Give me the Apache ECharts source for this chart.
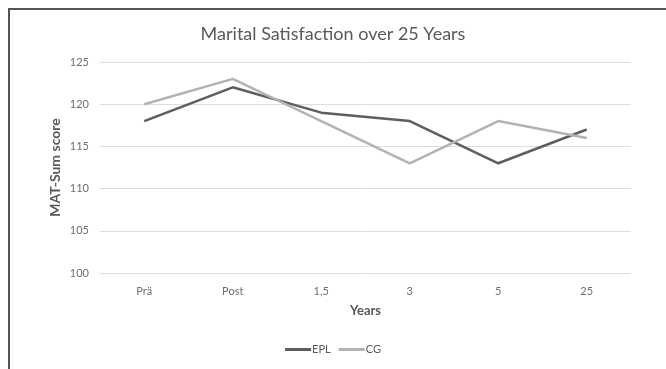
<!DOCTYPE html>
<html>
<head>
<meta charset="utf-8">
<script src="https://cdn.jsdelivr.net/npm/echarts@6/dist/echarts.min.js"></script>
<style>
html,body{margin:0;padding:0;background:#fff;}
#c{width:666px;height:369px;}
</style>
</head>
<body>
<div id="c"></div>
<script>
const categories = ['Prä', 'Post', '1,5', '3', '5', '25'];
const eplValues = [118, 122, 119, 118, 113, 117];
const cgValues = [120, 123, 118, 113, 118, 116];
const seriesNames = ['EPL', 'CG'];
const chartTitle = 'Marital Satisfaction over 25 Years';
const yAxisTitle = 'MAT-Sum score';
const xAxisTitle = 'Years';

const FONT = 'Lato';
const chart = echarts.init(document.getElementById('c'), null, {renderer: 'canvas'});
chart.setOption({
  animation: false,
  backgroundColor: '#fff',
  title: {
    text: chartTitle,
    left: 'center',
    top: 20,
    textStyle: {fontFamily: FONT, fontSize: 18, fontWeight: 'normal', color: '#595959'}
  },
  legend: {
    data: seriesNames,
    bottom: 9,
    left: 'center',
    itemWidth: 26,
    itemHeight: 3,
    itemGap: 8,
    icon: 'rect',
    textStyle: {fontFamily: FONT, fontSize: 11, color: '#595959', padding: [0, 0, 0, -4]}
  },
  grid: {left: 100, right: 35, top: 62, bottom: 96, containLabel: false},
  xAxis: {
    type: 'category',
    data: categories,
    boundaryGap: true,
    name: xAxisTitle,
    nameLocation: 'middle',
    nameGap: 31,
    nameTextStyle: {fontFamily: FONT, fontSize: 13, fontWeight: 'bold', color: '#595959'},
    axisLine: {show: false},
    axisTick: {show: false},
    axisLabel: {fontFamily: FONT, fontSize: 11, color: '#6e6e6e', margin: 13}
  },
  yAxis: {
    type: 'value',
    min: 100,
    max: 125,
    interval: 5,
    name: yAxisTitle,
    nameLocation: 'middle',
    nameGap: 38,
    nameMoveOverlap: false,
    nameRotate: 90,
    nameTextStyle: {fontFamily: FONT, fontSize: 14, fontWeight: 'bold', color: '#595959'},
    axisLine: {show: false},
    axisTick: {show: false},
    axisLabel: {fontFamily: FONT, fontSize: 11, color: '#6e6e6e', margin: 11},
    splitLine: {lineStyle: {color: '#dedede', width: 1}}
  },
  series: [
    {name: seriesNames[0], type: 'line', data: eplValues, symbol: 'none',
     lineStyle: {color: '#5e5e5e', width: 2.5}, itemStyle: {color: '#5e5e5e'}},
    {name: seriesNames[1], type: 'line', data: cgValues, symbol: 'none',
     lineStyle: {color: '#b3b3b3', width: 2.5}, itemStyle: {color: '#b3b3b3'}}
  ],
  graphic: [
    {type: 'line', shape: {x1: 8, y1: 9, x2: 666, y2: 9}, style: {stroke: '#555', lineWidth: 2}},
    {type: 'line', shape: {x1: 9, y1: 8, x2: 9, y2: 369}, style: {stroke: '#555', lineWidth: 2}}
  ]
});
</script>
</body>
</html>
